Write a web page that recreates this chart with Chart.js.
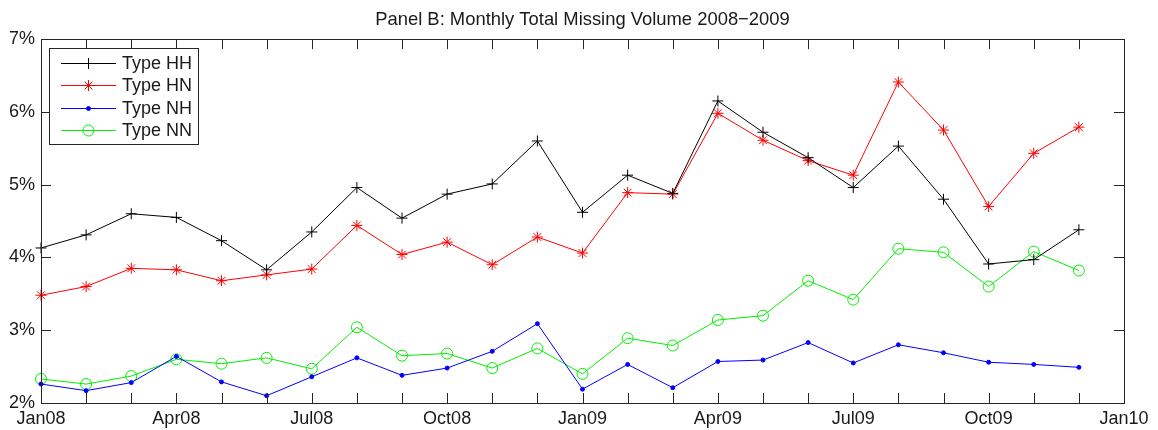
<!DOCTYPE html>
<html>
<head>
<meta charset="utf-8">
<script src="https://cdn.jsdelivr.net/npm/chart.js@4/dist/chart.umd.min.js"></script>
<style>
  html, body { margin: 0; padding: 0; background: #ffffff; }
  #wrap { width: 1158px; height: 430px; }
</style>
</head>
<body>
<div id="wrap"><canvas id="chart" width="1158" height="430"></canvas></div>
<script>
// Months on the horizontal axis (Jan10 closes the axis, no data there)
const months = ['Jan08','Feb08','Mar08','Apr08','May08','Jun08','Jul08','Aug08','Sep08','Oct08','Nov08','Dec08',
                'Jan09','Feb09','Mar09','Apr09','May09','Jun09','Jul09','Aug09','Sep09','Oct09','Nov09','Dec09','Jan10'];
// Quarterly tick labels shown under the axis
const tickLabels = ['Jan08','Apr08','Jul08','Oct08','Jan09','Apr09','Jul09','Oct09','Jan10'];

// Monthly total missing volume, percent
const typeHH = [4.13,4.31,4.60,4.55,4.23,3.83,4.35,4.96,4.54,4.87,5.01,5.60,4.62,5.13,4.88,6.15,5.72,5.37,4.96,5.53,4.80,3.91,3.97,4.38];
const typeHN = [3.48,3.60,3.85,3.83,3.68,3.76,3.84,4.44,4.04,4.21,3.90,4.28,4.06,4.89,4.87,5.98,5.61,5.33,5.13,6.41,5.75,4.70,5.43,5.79];
const typeNH = [2.26,2.17,2.28,2.64,2.29,2.10,2.36,2.62,2.38,2.48,2.71,3.09,2.19,2.53,2.21,2.57,2.59,2.83,2.55,2.80,2.69,2.56,2.53,2.49];
const typeNN = [2.33,2.26,2.37,2.60,2.54,2.62,2.47,3.04,2.65,2.68,2.48,2.75,2.40,2.89,2.79,3.14,3.20,3.68,3.42,4.12,4.07,3.60,4.08,3.82];

const FONT = '"Liberation Sans", Arial, Helvetica, sans-serif';
const INK = '#1a1a1a';

function series(label, values, color, style, radius, fill) {
  return {
    label: label,
    data: values,
    borderColor: color,
    backgroundColor: fill,
    borderWidth: 1,
    pointStyle: style,
    pointRadius: radius,
    pointHoverRadius: radius,
    pointBorderColor: color,
    pointBackgroundColor: fill,
    pointBorderWidth: 1,
    tension: 0,
    fill: false,
    clip: false
  };
}

// Draw a single marker of the given style (used for the legend swatches)
function drawMarker(ctx, style, x, y, r, color, fill) {
  ctx.save();
  ctx.strokeStyle = color;
  ctx.fillStyle = fill;
  ctx.lineWidth = 1;
  ctx.beginPath();
  if (style === 'cross' || style === 'star') {
    ctx.moveTo(x - r, y); ctx.lineTo(x + r, y);
    ctx.moveTo(x, y - r); ctx.lineTo(x, y + r);
    if (style === 'star') {
      const d = r * Math.SQRT1_2;
      ctx.moveTo(x - d, y - d); ctx.lineTo(x + d, y + d);
      ctx.moveTo(x - d, y + d); ctx.lineTo(x + d, y - d);
    }
    ctx.stroke();
  } else {
    ctx.arc(x, y, r, 0, Math.PI * 2);
    ctx.fill();
    ctx.stroke();
  }
  ctx.restore();
}

// Centre the title over the plot box rather than the whole canvas
const titleCenterPlugin = {
  id: 'titleCenter',
  afterLayout(chart) {
    const t = chart.titleBlock;
    if (t) {
      t.left = chart.chartArea.left;
      t.right = chart.chartArea.right;
      t.width = t.right - t.left;
    }
  }
};

// Axes box with inward-pointing ticks on all four sides
const framePlugin = {
  id: 'frame',
  afterDraw(chart) {
    const { ctx, chartArea: a, scales } = chart;
    const len = 10;
    ctx.save();
    ctx.strokeStyle = '#262626';
    ctx.lineWidth = 1;
    ctx.beginPath();
    scales.x.ticks.forEach((t, i) => {
      const px = Math.round(scales.x.getPixelForTick(i)) + 0.5;
      if (px <= a.left + 1 || px >= a.right - 1) return;
      ctx.moveTo(px, a.bottom); ctx.lineTo(px, a.bottom - len);
      ctx.moveTo(px, a.top); ctx.lineTo(px, a.top + len);
    });
    scales.y.ticks.forEach((t) => {
      const py = Math.round(scales.y.getPixelForValue(t.value)) + 0.5;
      if (py <= a.top + 1 || py >= a.bottom - 1) return;
      ctx.moveTo(a.left, py); ctx.lineTo(a.left + len, py);
      ctx.moveTo(a.right, py); ctx.lineTo(a.right - len, py);
    });
    ctx.stroke();
    ctx.strokeRect(Math.round(a.left) + 0.5, Math.round(a.top) + 0.5,
                   Math.round(a.right - a.left), Math.round(a.bottom - a.top));
    ctx.restore();
  }
};

// Boxed legend in the upper-left corner, line with marker in the middle
const legendBoxPlugin = {
  id: 'legendBox',
  afterDraw(chart) {
    const { ctx, chartArea: a } = chart;
    const x0 = a.left + 8, y0 = a.top + 9, w = 149, h = 96;
    ctx.save();
    ctx.fillStyle = '#ffffff';
    ctx.fillRect(x0, y0, w, h);
    ctx.strokeStyle = '#262626';
    ctx.lineWidth = 1;
    ctx.strokeRect(Math.round(x0) + 0.5, Math.round(y0) + 0.5, w, h);
    ctx.font = '18px ' + FONT;
    ctx.textBaseline = 'middle';
    ctx.textAlign = 'left';
    chart.data.datasets.forEach((ds, i) => {
      const y = y0 + 15 + i * 22.3;
      ctx.strokeStyle = ds.borderColor;
      ctx.beginPath();
      ctx.moveTo(x0 + 12, Math.round(y) + 0.5);
      ctx.lineTo(x0 + 67, Math.round(y) + 0.5);
      ctx.stroke();
      drawMarker(ctx, ds.pointStyle, x0 + 39.5, Math.round(y) + 0.5, ds.pointRadius, ds.borderColor, ds.pointBackgroundColor);
      ctx.fillStyle = INK;
      ctx.fillText(ds.label, x0 + 73, y + 1);
    });
    ctx.restore();
  }
};

new Chart(document.getElementById('chart'), {
  type: 'line',
  data: {
    labels: months,
    datasets: [
      series('Type HH', typeHH, '#000000', 'cross', 5.5, 'rgba(0,0,0,0)'),
      series('Type HN', typeHN, '#ff0000', 'star', 5.5, 'rgba(0,0,0,0)'),
      series('Type NH', typeNH, '#0000ff', 'circle', 2, '#0000ff'),
      series('Type NN', typeNN, '#00ee00', 'circle', 5.5, 'rgba(0,0,0,0)')
    ]
  },
  options: {
    responsive: false,
    animation: false,
    devicePixelRatio: 1,
    layout: { padding: { left: 0, right: 34, top: 0, bottom: 0 } },
    plugins: {
      legend: { display: false },
      tooltip: { enabled: false },
      title: {
        display: true,
        text: 'Panel B: Monthly Total Missing Volume 2008\u22122009',
        color: INK,
        font: { family: FONT, size: 18.4, weight: 'normal', lineHeight: 1.2 },
        padding: { top: 9, bottom: 8 }
      }
    },
    scales: {
      x: {
        type: 'category',
        offset: false,
        grid: { display: false, drawTicks: false },
        border: { display: false },
        afterFit(scale) { scale.height = 27; },
        ticks: {
          autoSkip: false,
          maxRotation: 0,
          padding: 5,
          color: INK,
          font: { family: FONT, size: 18 },
          callback(value, index) {
            return index % 3 === 0 ? tickLabels[index / 3] : '';
          }
        }
      },
      y: {
        min: 2,
        max: 7,
        grid: { display: false, drawTicks: false },
        border: { display: false },
        afterFit(scale) { scale.width = 41; },
        ticks: {
          stepSize: 1,
          padding: 6,
          color: INK,
          font: { family: FONT, size: 18 },
          callback(value) { return value + '%'; }
        }
      }
    }
  },
  plugins: [titleCenterPlugin, framePlugin, legendBoxPlugin]
});
</script>
</body>
</html>
